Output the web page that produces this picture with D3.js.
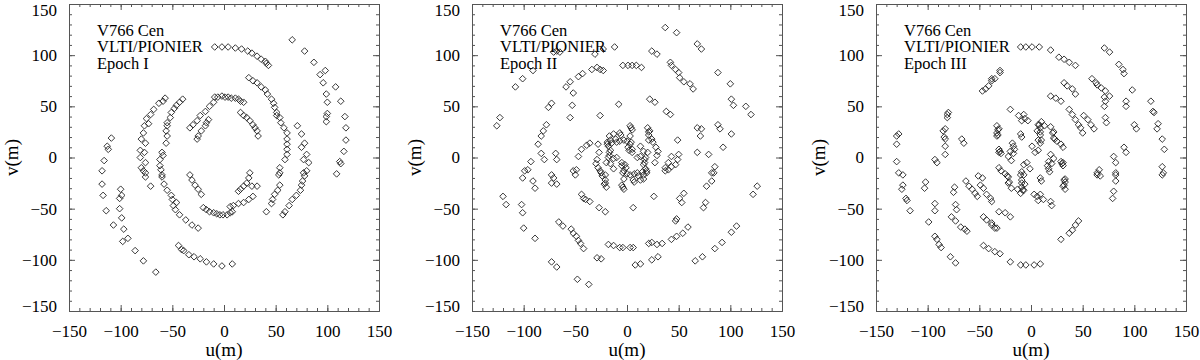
<!DOCTYPE html>
<html>
<head>
<meta charset="utf-8">
<script src="https://cdn.jsdelivr.net/npm/d3@7"></script>
<style>
  body { margin: 0; background: #fff; }
  svg { display: block; }
</style>
</head>
<body>
<script>
var WIDTH = 1200;
var HEIGHT = 360;

/* uv coverage, metres: [u, v] */
var epoch1 = [
  [108,69],[113,55],[117,40],[118,29],[118,17],[116,6],[112,-4],[113,-6],[109,-16],
  [-109,19],[-113,11],[-112,8],[-116,-3],[-118,-13],[-118,-26],[-117,-37],[-114,-52],[-107,-66],
  [66,115],[78,104],[87,93],[93,81],[98,85],[96,73],[99,62],[100,54],[100,43],[99,40],[99,35],
  [-100,-31],[-99,-37],[-101,-40],[-101,-50],[-99,-59],[-97,-70],[-93,-79],[-98,-82],[-86,-91],[-78,-101],[-66,-112],
  [-9,108],[-2,108],[4,108],[11,107],[17,106],[23,104],[27,102],[32,99],[36,96],[40,94],[41,92],[43,90],
  [-44,-86],[-41,-90],[-39,-91],[-34,-95],[-29,-97],[-23,-99],[-17,-102],[-10,-104],[-2,-106],[8,-104],
  [24,78],[28,75],[32,73],[36,69],[40,66],[42,62],[46,57],[48,53],[49,49],[51,44],[51,41],[54,39],[55,34],
  [58,29],[61,24],[61,18],[61,13],[61,8],[61,3],[59,-2],[54,-10],[54,-15],[53,-17],[54,-27],[52,-32],
  [49,-36],[47,-41],[46,-45],[41,-53],
  [-40,57],[-43,54],[-46,51],[-48,48],[-51,44],[-52,39],[-55,34],[-55,31],[-56,26],[-55,21],[-56,14],
  [-60,5],[-59,2],[-62,-2],[-62,-8],[-61,-12],[-60,-17],[-60,-19],[-58,-26],[-55,-32],[-51,-37],[-50,-41],
  [-46,-44],[-49,-47],[-47,-51],[-43,-56],[-37,-61],[-31,-66],[-25,-69],
  [71,31],[75,23],[78,14],[75,10],[80,3],[77,-2],[82,-5],[77,-15],[80,-13],[78,-18],[76,-23],[75,-27],
  [74,-32],[70,-37],[66,-41],[63,-47],[59,-53],[57,-56],
  [-57,58],[-59,55],[-63,53],[-68,47],[-71,42],[-75,38],[-73,33],[-77,31],[-78,24],[-80,18],[-76,14],
  [-81,7],[-77,5],[-81,0],[-76,-5],[-80,-10],[-76,-15],[-78,-13],[-76,-19],[-71,-28],
  [-9,59],[-6,59],[-2,60],[1,59],[4,59],[7,58],[11,58],[14,57],[16,55],[19,54],
  [-10,54],[-14,50],[-18,45],[-23,41],[-26,36],[-30,32],[-33,29],
  [-15,37],[-17,34],[-18,31],[-22,26],[-25,21],[-26,18],
  [16,44],[19,41],[22,39],[25,36],[28,32],[30,29],[32,26],[33,21],
  [-20,-49],[-17,-51],[-14,-53],[-10,-54],[-7,-55],[-4,-56],[-1,-56],[3,-56],[6,-54],[8,-53],
  [6,-48],[9,-47],[14,-45],[19,-44],[24,-41],[28,-38],[32,-28],[27,-28],
  [25,-15],[24,-20],[22,-25],[19,-28],[16,-31],[14,-33],
  [-33,-17],[-31,-22],[-28,-27],[-25,-31],[-22,-36]
];

var epoch2 = [
  [-126,31],[-123,39],[-108,69],[-101,77],[-91,85],[-76,49],[-73,53],[-78,32],[-81,26],[-83,21],[-86,13],
  [-93,-4],[-96,-12],[-83,4],[-80,-2],[-69,4],[-68,-2],[-71,103],[-68,104],[-65,103],[-59,69],[-55,74],
  [-47,79],[-43,82],[-52,63],[-53,51],[-55,39],[-34,86],[-29,88],[-31,101],[-26,41],[-39,12],[-36,14],
  [-44,8],[-47,1],[-49,-12],[-28,13],[-26,-13],
  [37,127],[48,122],[68,111],[72,106],[-12,108],[-23,106],[24,104],[29,101],[-4,90],[1,90],[5,90],[9,90],
  [14,88],[-26,86],[-23,85],[42,93],[43,90],[47,86],[50,83],[51,78],[55,74],[61,72],[64,67],[88,83],
  [100,72],[101,57],[103,51],[115,50],[120,42],[22,57],[27,54],[-8,52],[38,45],[42,42],[68,29],[72,28],
  [71,21],[88,32],[90,28],[101,23],[93,10],[68,5],[79,3],[85,-9],[82,-15],[49,17],[43,1],[40,-5],[37,-10],
  [3,31],[4,29],[3,21],[-17,21],[-13,23],[-7,24],[-18,11],[-17,5],[-18,0],[-20,-5],[-10,0],[-5,-5],[-2,-7],
  [3,13],[1,10],[5,8],[13,11],[16,6],[13,1],[17,-2],[16,-7],[27,-5],[-4,-15],[0,-16],[3,-17],[7,-16],
  [10,-15],[15,-14],[19,-13],[37,-13],[40,-12],[43,-9],[47,-7],[49,-2],[50,3],
  [20,29],[22,26],[21,22],[24,18],[25,15],[28,10],[30,6],[29,2],
  [-20,-29],[-22,-26],[-21,-22],[-24,-18],[-25,-15],[-28,-10],[-30,-6],[-29,-2],
  [16,-21],[13,-22],[7,-24],[-3,-31],[-4,-29],[-3,-21],
  [18,-11],[17,-5],[18,0],[20,5],[10,0],[5,5],[2,7],[-3,-13],[-1,-10],[-5,-8],[-13,-11],[-16,-6],
  [-13,-1],[-17,2],[-16,7],[-27,5],[4,15],[0,16],[-3,17],[-7,16],[-10,15],[-15,14],[-19,13],
  [-99,-13],[-101,-20],[-91,-23],[-89,-30],[-120,-38],[-117,-46],[-102,-46],[-101,-54],[-100,-69],[-89,-79],
  [-73,-17],[-71,-20],[-73,-25],[-68,-26],[-52,-13],[-50,-17],[-44,-36],[-42,-40],[-40,-41],[-36,-43],
  [-27,-49],[-66,-63],[-62,-67],[-54,-70],[-52,-74],[-49,-77],[-47,-81],[-45,-84],[-42,-89],[-73,-102],
  [-68,-107],[-48,-119],[-37,-124],[-29,-98],
  [-21,-53],[-25,-99],[-18,-85],[-13,-86],[-7,-88],[-4,-88],[3,-88],[6,-88],[8,-105],[13,-104],[6,-49],
  [21,-84],[24,-83],[29,-85],[34,-84],[24,-100],[30,-97],[26,-38],[43,-80],[48,-77],[54,-74],[59,-68],
  [47,-62],[48,-60],[53,-44],[51,-40],[55,-35],[74,-49],[76,-44],[77,-28],[82,-23],[84,-15],[66,-101],
  [73,-97],[85,-89],[92,-83],[101,-73],[106,-67],[122,-36],[126,-28],
  [-21,-17],[-21,-25],[-5,-27],[6,-22],[11,-18],[16,-17],[19,-15],
  [21,17],[21,25],[5,27],[-6,22],[-11,18],[-16,17],[-19,15]
];

var epoch3 = [
  [-130,21],[-128,23],[-130,13],[-130,-4],[-85,26],[-83,28],[-84,20],[-83,18],[-81,42],[-80,44],[-81,39],
  [-83,11],[-83,3],[-93,-2],[-91,-5],[-67,18],[-65,14],[-47,65],[-44,67],[-41,70],[-38,75],[-35,77],
  [-33,31],[-31,28],[-33,24],[-33,21],[-30,83],[-31,8],[-31,5],[-31,-10],
  [-10,108],[-5,108],[1,108],[8,108],[19,105],[27,98],[32,96],[37,93],[43,90],[71,107],[76,103],[85,91],
  [89,86],[90,82],[98,66],[92,55],[92,50],[116,55],[118,45],[119,44],[123,33],[122,28],[127,18],[129,8],
  [127,-9],[128,-15],[100,32],[102,28],[71,59],[72,55],[71,50],[72,39],[73,34],[80,1],[82,-5],[82,-15],
  [90,10],[92,5],[66,-12],[64,-17],[59,77],[63,73],[64,71],[68,68],[72,65],[76,60],[32,73],[35,70],
  [40,67],[43,62],[19,60],[24,58],[29,55],[37,47],[40,42],[43,37],[46,32],[48,29],[50,24],[51,41],
  [55,37],[58,32],[61,28],[-20,47],[-12,41],[-7,42],[-30,85],[-38,77],[-10,23],[-18,14],[-17,11],
  [-20,6],[-22,1],[-30,6],[1,11],[-7,-7],[-4,-5],[8,32],
  [7,32],[9,29],[6,26],[9,22],[7,17],[9,14],[19,30],[21,24],[22,19],[25,16],[29,13],
  [19,3],[17,-4],[16,-8],[29,-4],[10,17],[9,25],[13,31],[10,35],[23,18],[22,25],
  [-9,36],[-6,38],[-3,36],[-9,20],[-32,22],[-32,27],
  [-7,-32],[-9,-29],[-6,-26],[-9,-22],[-7,-17],[-9,-14],[-19,-30],[-21,-24],[-22,-19],[-25,-16],[-29,-13],
  [-19,-3],[-17,4],[-16,8],[-29,4],
  [10,-23],[18,-14],[17,-11],[20,-6],[22,-1],[30,-6],[-1,-11],[7,7],[4,5],[-8,-32],
  [33,-31],[31,-28],[33,-24],[33,-21],[31,-8],[31,-5],[31,10],[67,-18],[20,-47],[12,-41],[7,-42],
  [-128,-15],[-124,-17],[-124,-27],[-125,-31],[-121,-40],[-120,-42],[-117,-52],[-102,-24],[-103,-30],
  [-99,-63],[-93,-45],[-93,-52],[-93,-77],[-91,-80],[-89,-85],[-87,-88],[-78,-97],[-73,-103],[-74,-29],
  [-75,-34],[-73,-46],[-72,-51],[-77,-58],[-73,-62],[-68,-68],[-64,-70],[-62,-72],[-63,-23],[-60,-28],
  [-57,-31],[-54,-35],[-52,-38],[-51,-18],[-47,-20],[-49,-27],[-46,-30],[-43,-36],[-39,-40],[-38,-43],
  [-46,-58],[-43,-61],[-38,-66],[-33,-69],[-46,-86],[-41,-89],[-35,-92],[-30,-94],[-31,-53],[-25,-54],
  [-20,-58],[-38,-64],[-35,-69],[-20,-102],[-10,-105],[-5,-105],[3,-105],[9,-104],[29,-80],[37,-74],
  [40,-71],[43,-66],[46,-62],[19,-43],[9,-36],[6,-38],[3,-36],[9,-20],[32,-22],[32,-27],[64,-15],
  [82,-17],[82,-23],[80,-33],[79,-40],[127,-17],[-10,-17],[-9,-25],[-13,-31],[-10,-35],[-23,-18],[-22,-25]
];

var panelLabels = [
  ["V766 Cen", "VLTI/PIONIER", "Epoch I"],
  ["V766 Cen", "VLTI/PIONIER", "Epoch II"],
  ["V766 Cen", "VLTI/PIONIER", "Epoch III"]
];
var majorTicks = [-150, -100, -50, 0, 50, 100, 150];
var minorTicks = d3.range(-150, 151, 10);
var xTitle = "u(m)";
var yTitle = "v(m)";

var FONT = "'Liberation Serif', 'Times New Roman', serif";
var AXIS_COLOR = "#555";
var TOP = 4, BOTTOM = 311;
var panelLefts = [69, 472, 876];
var PANEL_W = 310;

var svg = d3.select("body").append("svg")
    .attr("width", WIDTH)
    .attr("height", HEIGHT);

function diamondPath(r) {
    return "M0," + (-r) + "L" + r + ",0L0," + r + "L" + (-r) + ",0Z";
}

function styleAxis(g, showLabels) {
    g.select(".domain").attr("stroke", AXIS_COLOR).attr("stroke-width", 1);
    g.selectAll(".tick line").attr("stroke", AXIS_COLOR).attr("stroke-width", 1);
    g.selectAll(".tick text")
        .attr("font-family", FONT)
        .attr("font-size", "17px")
        .attr("fill", "#000");
    if (!showLabels) g.selectAll(".tick text").remove();
}

function drawPanel(data, labels, left) {
    var x = d3.scaleLinear().domain([-150, 150]).range([left, left + PANEL_W]);
    var y = d3.scaleLinear().domain([-150, 150]).range([BOTTOM, TOP]);
    var g = svg.append("g");

    // minor ticks on all four sides
    g.append("g").attr("transform", "translate(0," + BOTTOM + ")")
        .call(d3.axisBottom(x).tickValues(minorTicks).tickSize(-3).tickSizeOuter(0).tickFormat(""))
        .call(styleAxis, false);
    g.append("g").attr("transform", "translate(0," + TOP + ")")
        .call(d3.axisTop(x).tickValues(minorTicks).tickSize(-3).tickSizeOuter(0).tickFormat(""))
        .call(styleAxis, false);
    g.append("g").attr("transform", "translate(" + left + ",0)")
        .call(d3.axisLeft(y).tickValues(minorTicks).tickSize(-3).tickSizeOuter(0).tickFormat(""))
        .call(styleAxis, false);
    g.append("g").attr("transform", "translate(" + (left + PANEL_W) + ",0)")
        .call(d3.axisRight(y).tickValues(minorTicks).tickSize(-3).tickSizeOuter(0).tickFormat(""))
        .call(styleAxis, false);

    // major ticks
    g.append("g").attr("transform", "translate(0," + BOTTOM + ")")
        .call(d3.axisBottom(x).tickValues(majorTicks).tickSize(-6).tickSizeOuter(0).tickPadding(14))
        .call(styleAxis, true);
    g.append("g").attr("transform", "translate(0," + TOP + ")")
        .call(d3.axisTop(x).tickValues(majorTicks).tickSize(-6).tickSizeOuter(0).tickFormat(""))
        .call(styleAxis, false);
    var yl = g.append("g").attr("transform", "translate(" + left + ",0)")
        .call(d3.axisLeft(y).tickValues(majorTicks).tickSize(-6).tickSizeOuter(0).tickPadding(12))
        .call(styleAxis, true);
    // end labels sit a little inside the box, as in the original
    yl.selectAll(".tick text")
        .attr("dy", d => d === 150 ? "0.65em" : d === -150 ? "0.05em" : "0.32em");
    g.append("g").attr("transform", "translate(" + (left + PANEL_W) + ",0)")
        .call(d3.axisRight(y).tickValues(majorTicks).tickSize(-6).tickSizeOuter(0).tickFormat(""))
        .call(styleAxis, false);

    // axis titles
    g.append("text")
        .attr("x", x(0))
        .attr("y", 356)
        .attr("text-anchor", "middle")
        .attr("font-family", FONT)
        .attr("font-size", "19px")
        .text(xTitle);
    g.append("text")
        .attr("transform", "translate(" + (left - 51) + "," + y(0) + ") rotate(-90)")
        .attr("text-anchor", "middle")
        .attr("font-family", FONT)
        .attr("font-size", "19px")
        .text(yTitle);

    // uv points
    g.append("g").selectAll("path")
        .data(data)
        .join("path")
        .attr("transform", d => "translate(" + x(d[0]) + "," + y(d[1]) + ")")
        .attr("d", diamondPath(3.3))
        .attr("fill", "none")
        .attr("stroke", "#222")
        .attr("stroke-width", 0.9);

    // label block: one text element, three lines
    g.append("text")
        .attr("font-family", FONT)
        .attr("font-size", "16.5px")
        .attr("fill", "#000")
        .selectAll("tspan")
        .data(labels)
        .join("tspan")
        .attr("x", left + 28)
        .attr("y", (d, i) => 35.5 + i * 16.6)
        .text(d => d);
}

drawPanel(epoch1, panelLabels[0], panelLefts[0]);
drawPanel(epoch2, panelLabels[1], panelLefts[1]);
drawPanel(epoch3, panelLabels[2], panelLefts[2]);
</script>
</body>
</html>
